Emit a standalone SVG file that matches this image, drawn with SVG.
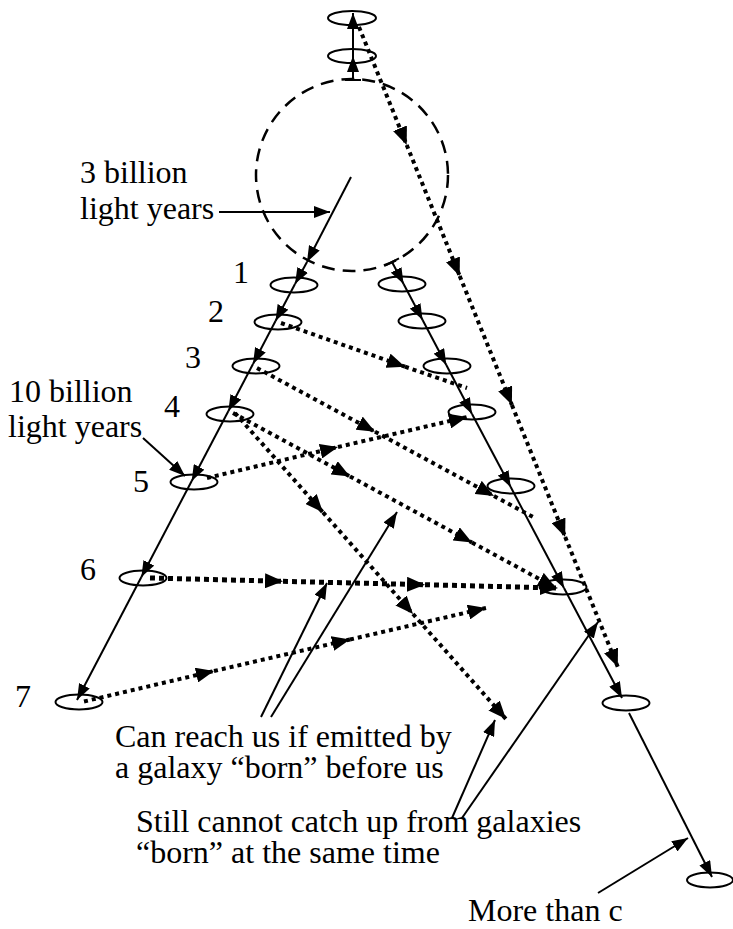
<svg xmlns="http://www.w3.org/2000/svg" width="733" height="929" viewBox="0 0 733 929">
<style>
text{font-family:"Liberation Serif","Times New Roman",serif;font-size:32px;fill:#000}
.e{fill:none;stroke:#000;stroke-width:2}
.s{fill:none;stroke:#000;stroke-width:2;marker-end:url(#a)}
.sn{fill:none;stroke:#000;stroke-width:2}
.d{fill:none;stroke:#000;stroke-width:4;stroke-dasharray:4 4;marker-end:url(#b)}
.dn{fill:none;stroke:#000;stroke-width:4;stroke-dasharray:4 4}
.h{fill:none;stroke:#000;stroke-width:5;stroke-dasharray:5 4;marker-end:url(#b)}
</style>
<defs>
<marker id="a" markerUnits="userSpaceOnUse" markerWidth="16" markerHeight="12" viewBox="0 0 16 12" refX="16" refY="6" orient="auto"><path d="M0,0 L16,6 L0,12 z" fill="#000"/></marker>
<marker id="b" markerUnits="userSpaceOnUse" markerWidth="18" markerHeight="15" viewBox="0 0 18 15" refX="18" refY="7.5" orient="auto"><path d="M0,0 L18,7.5 L0,15 z" fill="#000"/></marker>
</defs>

<g id="horizon">
<circle cx="352" cy="175" r="96" fill="none" stroke="#000" stroke-width="2.5" stroke-dasharray="13 8"/>
</g>

<g id="galaxy-top1"><ellipse class="e" cx="352" cy="18" rx="24" ry="7"/></g>
<g id="galaxy-top2"><ellipse class="e" cx="352" cy="56" rx="24" ry="7"/></g>

<g id="galaxy-L1"><ellipse class="e" cx="294" cy="285" rx="23.5" ry="7.5"/></g>
<g id="galaxy-L2"><ellipse class="e" cx="278" cy="322" rx="23.5" ry="7.5"/></g>
<g id="galaxy-L3"><ellipse class="e" cx="256" cy="366" rx="23.5" ry="7.5"/></g>
<g id="galaxy-L4"><ellipse class="e" cx="230" cy="414" rx="23.5" ry="7.5"/></g>
<g id="galaxy-L5"><ellipse class="e" cx="194" cy="482" rx="23.5" ry="7.5"/></g>
<g id="galaxy-L6"><ellipse class="e" cx="143" cy="578" rx="23.5" ry="7.5"/></g>
<g id="galaxy-L7"><ellipse class="e" cx="79" cy="702" rx="23.5" ry="7.5"/></g>

<g id="galaxy-R1"><ellipse class="e" cx="402" cy="284" rx="23.5" ry="7.5"/></g>
<g id="galaxy-R2"><ellipse class="e" cx="422" cy="321" rx="23.5" ry="7.5"/></g>
<g id="galaxy-R3"><ellipse class="e" cx="447" cy="366" rx="23.5" ry="7.5"/></g>
<g id="galaxy-R4"><ellipse class="e" cx="472" cy="412" rx="23.5" ry="7.5"/></g>
<g id="galaxy-R5"><ellipse class="e" cx="511" cy="486" rx="23.5" ry="7.5"/></g>
<g id="galaxy-R6"><ellipse class="e" cx="563" cy="587" rx="23.5" ry="7.5"/></g>
<g id="galaxy-R7"><ellipse class="e" cx="626" cy="703" rx="23.5" ry="7.5"/></g>
<g id="galaxy-R8"><ellipse class="e" cx="710" cy="880" rx="23" ry="7.5"/></g>

<g id="labels">
<text x="80" y="183">3 billion</text>
<text x="80" y="219">light years</text>
<text x="9" y="402">10 billion</text>
<text x="8" y="437">light years</text>
<text x="233" y="283">1</text>
<text x="208" y="322">2</text>
<text x="185" y="368">3</text>
<text x="164" y="417">4</text>
<text x="133" y="492">5</text>
<text x="80" y="580">6</text>
<text x="15" y="707">7</text>
<text x="115" y="747">Can reach us if emitted by</text>
<text x="115" y="778">a galaxy “born” before us</text>
<text x="136" y="832">Still cannot catch up from galaxies</text>
<text x="136" y="863">“born” at the same time</text>
<text x="468" y="921">More than c</text>
</g>

<g id="connectors">
<line class="sn" x1="345" y1="80" x2="361" y2="80"/>
<line class="s" x1="353" y1="80" x2="353" y2="56"/>
<line class="s" x1="353" y1="56" x2="353" y2="13"/>
<line class="s" x1="351" y1="177" x2="307" y2="262"/>
<line class="s" x1="307" y1="262" x2="295" y2="284"/>
<line class="s" x1="295" y1="284" x2="275.5" y2="321"/>
<line class="s" x1="275.5" y1="321" x2="253" y2="364"/>
<line class="s" x1="253" y1="364" x2="228.4" y2="411"/>
<line class="s" x1="228.4" y1="411" x2="191.7" y2="481"/>
<line class="s" x1="191.7" y1="481" x2="141.4" y2="577"/>
<line class="s" x1="141.4" y1="577" x2="77" y2="700"/>
<line class="sn" x1="385" y1="265.7" x2="399" y2="258.3"/>
<line class="s" x1="392" y1="262" x2="403.6" y2="284"/>
<line class="s" x1="403.6" y1="284" x2="422.6" y2="320"/>
<line class="s" x1="422.6" y1="320" x2="446.3" y2="365"/>
<line class="s" x1="446.3" y1="365" x2="472" y2="414"/>
<line class="s" x1="472" y1="414" x2="510.7" y2="487"/>
<line class="s" x1="510.7" y1="487" x2="564" y2="588"/>
<line class="s" x1="564" y1="588" x2="622" y2="698"/>
<line class="s" x1="629" y1="713" x2="712" y2="877"/>
<line class="d" x1="359" y1="27" x2="406.7" y2="145"/>
<line class="d" x1="406.7" y1="145" x2="459.7" y2="276"/>
<line class="d" x1="459.7" y1="276" x2="511.9" y2="405"/>
<line class="d" x1="511.9" y1="405" x2="565.2" y2="537"/>
<line class="d" x1="565.2" y1="537" x2="617.8" y2="667"/>
<line class="d" x1="281" y1="323" x2="405" y2="366.7"/>
<line class="dn" x1="405" y1="366.7" x2="467" y2="388"/>
<line class="d" x1="257" y1="368" x2="375" y2="431.7"/>
<line class="d" x1="375" y1="431.7" x2="494" y2="496"/>
<line class="dn" x1="494" y1="496" x2="533" y2="517"/>
<line class="d" x1="233" y1="413" x2="350" y2="476.4"/>
<line class="d" x1="350" y1="476.4" x2="472" y2="542.5"/>
<line class="d" x1="472" y1="542.5" x2="556" y2="588"/>
<line class="d" x1="235" y1="413" x2="323" y2="512.4"/>
<line class="d" x1="323" y1="512.4" x2="413" y2="614"/>
<line class="d" x1="413" y1="614" x2="506" y2="719"/>
<line class="d" x1="207" y1="478" x2="338" y2="447"/>
<line class="d" x1="338" y1="447" x2="467" y2="417"/>
<line class="h" x1="150" y1="578" x2="283" y2="581.3"/>
<line class="h" x1="283" y1="581.3" x2="425" y2="584.7"/>
<line class="h" x1="425" y1="584.7" x2="558" y2="588"/>
<line class="d" x1="84" y1="701.5" x2="214" y2="671"/>
<line class="d" x1="214" y1="671" x2="350" y2="639.5"/>
<line class="d" x1="350" y1="639.5" x2="486" y2="608"/>
<line class="s" x1="219" y1="212" x2="330" y2="212"/>
<line class="s" x1="143" y1="438" x2="185" y2="476"/>
<line class="s" x1="261" y1="717" x2="327" y2="583"/>
<line class="s" x1="271" y1="717" x2="397" y2="512"/>
<line class="s" x1="452" y1="818" x2="495" y2="720"/>
<line class="s" x1="462" y1="818" x2="598" y2="622"/>
<line class="s" x1="598" y1="893" x2="688" y2="838"/>
</g>
</svg>
